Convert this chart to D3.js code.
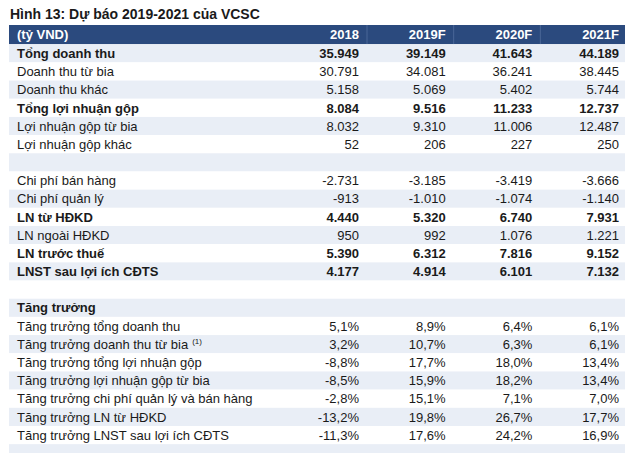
<!DOCTYPE html>
<html><head><meta charset="utf-8">
<script src="https://cdn.jsdelivr.net/npm/d3@7"></script>
<style>
html,body{margin:0;padding:0;background:#fff;}
svg{display:block;}
text{font-family:"Liberation Sans",Arial,Helvetica,sans-serif;}
</style></head>
<body>
<svg id="chart" width="630" height="453"></svg>
<script>
const title = "Hình 13: Dự báo 2019-2021 của VCSC";
const unitLabel = "(tỷ VND)";
const years = ["2018", "2019F", "2020F", "2021F"];
const labels = [
  "Tổng doanh thu", "Doanh thu từ bia", "Doanh thu khác", "Tổng lợi nhuận gộp",
  "Lợi nhuận gộp từ bia", "Lợi nhuận gộp khác", "", "Chi phí bán hàng",
  "Chi phí quản lý", "LN từ HĐKD", "LN ngoài HĐKD", "LN trước thuế",
  "LNST sau lợi ích CĐTS", "", "Tăng trưởng", "Tăng trưởng tổng doanh thu",
  "Tăng trưởng doanh thu từ bia", "Tăng trưởng tổng lợi nhuận gộp",
  "Tăng trưởng lợi nhuận gộp từ bia", "Tăng trưởng chi phí quản lý và bán hàng",
  "Tăng trưởng LN từ HĐKD", "Tăng trưởng LNST sau lợi ích CĐTS", ""
];
const v2018 = [35949, 30791, 5158, 8084, 8032, 52, null, -2731, -913, 4440, 950, 5390, 4177, null, null, 5.1, 3.2, -8.8, -8.5, -2.8, -13.2, -11.3, null];
const v2019 = [39149, 34081, 5069, 9516, 9310, 206, null, -3185, -1010, 5320, 992, 6312, 4914, null, null, 8.9, 10.7, 17.7, 15.9, 15.1, 19.8, 17.6, null];
const v2020 = [41643, 36241, 5402, 11233, 11006, 227, null, -3419, -1074, 6740, 1076, 7816, 6101, null, null, 6.4, 6.3, 18.0, 18.2, 7.1, 26.7, 24.2, null];
const v2021 = [44189, 38445, 5744, 12737, 12487, 250, null, -3666, -1140, 7931, 1221, 9152, 7132, null, null, 6.1, 6.1, 13.4, 13.4, 7.0, 17.7, 16.9, null];
const totalRows = ["Tổng doanh thu", "Tổng lợi nhuận gộp", "LN từ HĐKD", "LN trước thuế", "LNST sau lợi ích CĐTS", "Tăng trưởng"];
const percentRows = labels.filter(l => l.startsWith("Tăng trưởng ") );
const footnotes = {"Tăng trưởng doanh thu từ bia": "(1)"};

const series = [v2018, v2019, v2020, v2021];

const svg = d3.select("#chart");
const navy = "#2b4a7e", light = "#e9eef6", ink = "#1a1a1a";

const loc = d3.formatLocale({decimal: ",", thousands: ".", grouping: [3], currency: ["", ""], minus: "-"});
const fmtNum = loc.format(",.0f");
const fmtPct = loc.format(".1f");

const left = 9, right = 625, headerTop = 25, bodyTop = 44.2, rowH = 18.18;

const y = d3.scaleBand().domain(d3.range(labels.length))
  .range([bodyTop, bodyTop + rowH * labels.length]).paddingInner(0).paddingOuter(0);
const colRight = d3.scalePoint().domain(years).range([359, 619]);

// title
svg.append("text").attr("x", 10).attr("y", 19)
  .attr("font-size", 14).attr("font-weight", "bold").attr("fill", ink).text(title);

// header
svg.append("rect").attr("x", left).attr("y", headerTop).attr("width", right - left)
  .attr("height", bodyTop - headerTop).attr("fill", navy);
years.slice(0, -1).forEach(yr => {
  svg.append("line").attr("x1", colRight(yr) + 8).attr("x2", colRight(yr) + 8)
    .attr("y1", headerTop).attr("y2", bodyTop).attr("stroke", "#4a6797").attr("stroke-width", 1);
});
const hy = (headerTop + bodyTop) / 2;
svg.append("text").attr("x", 17).attr("y", hy).attr("dy", "0.36em")
  .attr("font-size", 13).attr("font-weight", "bold").attr("fill", "#fff").text(unitLabel);
svg.selectAll("text.yr").data(years).join("text").attr("class", "yr")
  .attr("x", d => colRight(d)).attr("y", hy).attr("dy", "0.36em").attr("text-anchor", "end")
  .attr("font-size", 13).attr("font-weight", "bold").attr("fill", "#fff").text(d => d);

// row bands
svg.selectAll("rect.band").data(labels).join("rect").attr("class", "band")
  .attr("x", left).attr("width", right - left)
  .attr("y", (d, i) => y(i)).attr("height", y.bandwidth())
  .attr("fill", (d, i) => i % 2 === 0 ? light : "#fff");

// labels
const lab = svg.selectAll("text.lab").data(labels).join("text").attr("class", "lab")
  .attr("x", 17).attr("y", (d, i) => y(i) + y.bandwidth() / 2).attr("dy", "0.36em")
  .attr("font-size", 13).attr("fill", ink)
  .attr("font-weight", d => totalRows.includes(d) ? "bold" : "normal")
  .text(d => d);
lab.filter(d => footnotes[d]).append("tspan").attr("font-size", 8).attr("dx", 4).attr("dy", "-0.55em")
  .text(d => footnotes[d]);

// values
series.forEach((vals, j) => {
  svg.selectAll("text.v" + j).data(vals).join("text").attr("class", "v" + j)
    .attr("x", colRight(years[j])).attr("y", (d, i) => y(i) + y.bandwidth() / 2).attr("dy", "0.36em")
    .attr("text-anchor", "end").attr("font-size", 13).attr("fill", ink)
    .attr("font-weight", (d, i) => totalRows.includes(labels[i]) ? "bold" : "normal")
    .text((d, i) => d === null ? "" : (percentRows.includes(labels[i]) ? fmtPct(d) + "%" : fmtNum(d)));
});
</script>
</body></html>
